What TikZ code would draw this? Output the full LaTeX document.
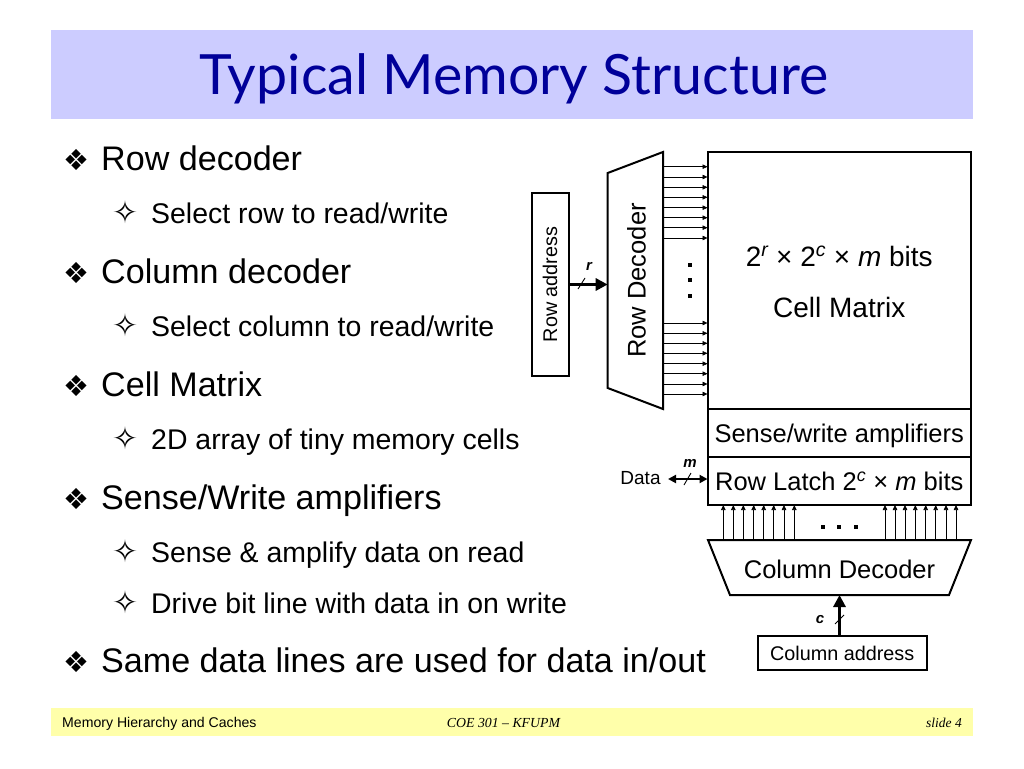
\documentclass[tikz,border=0pt]{standalone}
\usepackage{fontspec}
\setmainfont{Liberation Sans}
\newfontfamily\dingfont{DejaVu Sans}
\newfontfamily\titlefont{Lato}
\newfontfamily\footfont{Liberation Serif}
\usetikzlibrary{positioning,arrows.meta}
\definecolor{titleblue}{RGB}{204,204,255}
\definecolor{titleink}{RGB}{0,0,153}
\definecolor{footyellow}{RGB}{255,255,170}
\newcommand{\fsize}[1]{\fontsize{#1}{#1}\selectfont}
\newcommand{\topbul}[1]{\makebox[37pt][l]{\hspace{-0.5pt}\raisebox{0pt}{\dingfont\fsize{29}❖}}#1}
\newcommand{\subbul}[1]{\makebox[36pt][l]{\hspace{-2.5pt}\raisebox{0pt}{\dingfont\fsize{31}✧}}#1}
\tikzset{
	topitem/.style={anchor=base west, inner sep=0pt, font=\fsize{34.1}},
	subitem/.style={anchor=base west, inner sep=0pt, font=\fsize{28.45}},
	block/.style={draw, line width=2pt, outer sep=0pt, inner sep=0pt, font=\fsize{25.5}},
	wire/.style={line width=0.7pt, -{Stealth[length=5pt,width=4.5pt,inset=0pt]}},
	bus/.style={line width=3.2pt, -{Stealth[length=12pt,width=12pt,inset=0pt]}},
	slash/.style={line width=0.9pt},
	buslabel/.style={inner sep=0pt, font=\fsize{15}\bfseries\itshape},
	footnote/.style={inner sep=0pt, anchor=base}
}
\begin{document}
\begin{tikzpicture}[x=1pt, y=-1pt]
	\useasboundingbox (0,0) rectangle (1024,768);
	% Bands
	\fill [titleblue] (51,30) rectangle (973,119);
	\fill [footyellow] (51,708) rectangle (973,736);
	\node [inner sep=0pt, text=titleink, font=\titlefont\fsize{55.5}] (title) at (514,79) {Typical Memory Structure};
	\node [footnote, anchor=base west, font=\fsize{14.1}] (footleft) at (62,727) {Memory Hierarchy and Caches};
	\node [footnote, font=\footfont\itshape\fsize{13.8}] (footmid) at (503.5,727) {COE 301 – KFUPM};
	\node [footnote, anchor=base east, font=\footfont\itshape\fsize{13.5}] (footright) at (962,727) {slide 4};
	% Bullets
	\node [topitem] (rowitem) at (64,170) {\topbul{Row decoder}};
	\node [subitem] (rowsub) at (115,223) {\subbul{Select row to read/write}};
	\node [topitem] (colitem) at (64,283) {\topbul{Column decoder}};
	\node [subitem] (colsub) at (115,336) {\subbul{Select column to read/write}};
	\node [topitem] (cellitem) at (64,396) {\topbul{Cell Matrix}};
	\node [subitem] (cellsub) at (115,449) {\subbul{2D array of tiny memory cells}};
	\node [topitem] (senseitem) at (64,509) {\topbul{Sense/Write amplifiers}};
	\node [subitem] (sensesub) at (115,562) {\subbul{Sense \& amplify data on read}};
	\node [subitem] (drivesub) at (115,613) {\subbul{Drive bit line with data in on write}};
	\node [topitem] (sameitem) at (64,672) {\topbul{Same data lines are used for data in/out}};
	% Blocks
	\node [block, anchor=north west, minimum width=263.5pt, minimum height=257pt, align=center, font=\fsize{28}] (cellmatrix) at (707.5,152)
		{\raisebox{-11pt}[0pt][0pt]{2\textsuperscript{\itshape r} × 2\textsuperscript{\itshape c} × \textit{m} bits}\\[23pt]\raisebox{-11pt}[0pt][0pt]{Cell Matrix}};
	\node [block, minimum width=263.5pt, minimum height=48pt, below=0pt of cellmatrix] (sense) {\raisebox{-9pt}[0pt][0pt]{Sense/write amplifiers}};
	\node [block, minimum width=263.5pt, minimum height=48pt, below=0pt of sense] (rowlatch) {Row Latch 2\textsuperscript{\itshape c} × \textit{m} bits};
	\node [block, anchor=north west, minimum width=37pt, minimum height=183pt, font=\fsize{19.8}] (rowaddr) at (531.5,193)
		{\rotatebox{90}{Row address}};
	\node [block, anchor=north west, minimum width=169pt, minimum height=34pt, font=\fsize{19.8}] (coladdr) at (757.7,636) {Column address};
	% Decoders
	\draw [line width=2pt, line join=miter] (607.7,173) -- (663,152) -- (663,409) -- (607.7,388) -- cycle;
	\draw [line width=2pt, line join=miter] (708,540) -- (971,540) -- (949,595) -- (730,595) -- cycle;
	\coordinate (rowdecin) at (607.7,284.5);
	\coordinate (rowdecout) at (663,284.5);
	\coordinate (coldectop) at (839.5,540);
	\coordinate (coldecin) at (839.5,595);
	\node [inner sep=0pt, font=\fsize{25.5}, rotate=90] (rowdec) at (636.5,280.5) {Row Decoder};
	\node [inner sep=0pt, font=\fsize{25.5}] (coldec) at (839.5,569.5) {Column Decoder};
	% Wires
	\foreach \y in {166.7,177,187.3,197.3,207.7,217.7,227.7,238,323,333.3,343.3,353.3,363.7,373.7,384,394}
		\draw [wire] (rowdecout |- 0,\y) -- (cellmatrix.west |- 0,\y);
	\foreach \x in {723.3,733.3,743.3,753.7,763.7,773.7,784,794.3,885,895,905,915.3,925.7,935.7,946,956}
		\draw [wire] (\x,0 |- coldectop) -- (\x,0 |- rowlatch.south);
	\foreach \y in {265,280.3,295.7}
		\fill (687.5,\y-2) rectangle (691.5,\y+2);
	\foreach \x in {823.3,839.3,855.7}
		\fill (\x-2,524.7) rectangle (\x+2,528.7);
	% Buses
	\draw [bus] (rowaddr.east) -- (rowdecin);
	\draw [slash] (578,289) -- (585,278);
	\node [buslabel] (rlabel) at (589,266) {r};
	\draw [bus] (coladdr.north -| coldecin) -- (coldecin);
	\draw [slash] (835,624) -- (844,615);
	\node [buslabel] (clabel) at (820,620) {c};
	\node [inner sep=0pt, font=\fsize{19}] (datalabel) at (640.5,478) {Data};
	\draw [line width=2pt, {Stealth[length=8pt,width=8pt,inset=0pt]}-{Stealth[length=8pt,width=8pt,inset=0pt]}] (668,479) -- (rowlatch.west |- 0,479);
	\draw [slash] (684,485) -- (691,473);
	\node [buslabel] (mlabel) at (690,463) {m};
\end{tikzpicture}
\end{document}
